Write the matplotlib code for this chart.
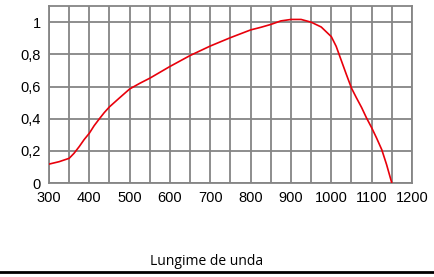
import matplotlib
matplotlib.use("Agg")
import matplotlib.pyplot as plt
from matplotlib.ticker import MultipleLocator, FuncFormatter
from matplotlib.lines import Line2D

wavelength = [300, 325, 350, 362, 375, 387, 400, 412, 425, 437, 450, 475, 500, 525, 550,
              600, 650, 700, 750, 800, 825, 850, 875, 900, 925, 950, 975, 1000, 1012,
              1025, 1037, 1050, 1062, 1075, 1087, 1100, 1112, 1125, 1137, 1150]
response = [0.118, 0.133, 0.154, 0.185, 0.227, 0.27, 0.31, 0.357, 0.40, 0.438, 0.474, 0.53, 0.585, 0.62, 0.652,
            0.725, 0.793, 0.852, 0.904, 0.952, 0.968, 0.986, 1.008, 1.017, 1.017, 1.0, 0.97, 0.91, 0.85,
            0.76, 0.677, 0.59, 0.531, 0.47, 0.406, 0.344, 0.281, 0.208, 0.115, 0.0]

xticks = [300, 400, 500, 600, 700, 800, 900, 1000, 1100, 1200]
yticks = [0, 0.2, 0.4, 0.6, 0.8, 1.0]
xlabel = "Lungime de unda"

fig = plt.figure(figsize=(4.34, 2.77), dpi=100)
ax = fig.add_axes([0.1129, 0.339, 0.9493 - 0.1129, 0.978 - 0.339])

ax.plot(wavelength, response, color="#e8000b", lw=1.2, zorder=3,
        solid_joinstyle="round", antialiased=True)

ax.set_xlim(300, 1200)
ax.set_ylim(0, 1.1)
ax.xaxis.set_major_locator(MultipleLocator(50))
ax.set_yticks(yticks)
ax.grid(True, color="#858585", lw=1.3)
for s in ax.spines.values():
    s.set_color("#858585")
    s.set_linewidth(1.3)
ax.tick_params(length=0, labelsize=10.5, pad=6)

def xfmt(v, pos):
    return f"{int(round(v))}" if int(round(v)) in xticks else ""
ax.xaxis.set_major_formatter(FuncFormatter(xfmt))
ax.yaxis.set_major_formatter(FuncFormatter(lambda v, p: ("%g" % round(v, 1)).replace(".", ",")))
for lab in ax.get_xticklabels() + ax.get_yticklabels():
    lab.set_family("Liberation Sans")

fig.text(0.477, 0.055, xlabel, ha="center", va="center", fontsize=10, family="Open Sans")
fig.add_artist(Line2D([0, 1], [0.017, 0.017], transform=fig.transFigure, color="black", lw=2))

fig.savefig("out.png", dpi=100)
